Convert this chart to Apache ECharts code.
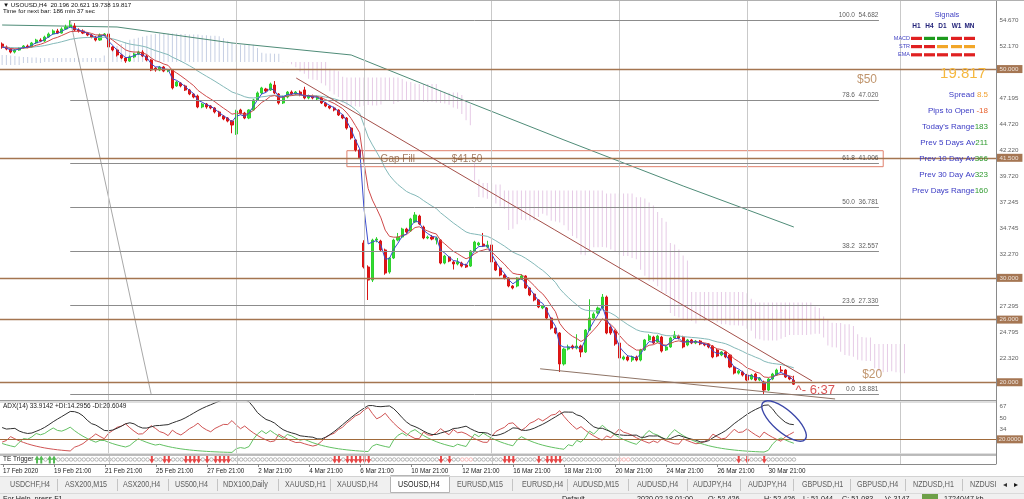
<!DOCTYPE html>
<html><head><meta charset="utf-8">
<script src="https://cdn.jsdelivr.net/npm/echarts@6/dist/echarts.min.js"></script>
<style>html,body{margin:0;padding:0;background:#fff;overflow:hidden}#c{width:1024px;height:499px}</style>
</head><body><div id="c"></div>
<script>
// ---------- DATA ----------
const OPEN=[52.40,52.11,51.92,51.63,51.82,52.02,52.21,52.11,52.50,52.78,52.69,53.07,53.36,53.65,53.45,53.84,54.03,54.12,53.74,53.65,53.45,53.26,53.07,52.78,53.26,53.36,52.11,51.83,51.35,51.06,50.77,51.16,51.44,51.63,51.25,50.87,50.10,49.91,50.20,49.81,49.91,48.38,48.66,48.38,47.99,47.61,47.42,46.37,46.65,46.46,46.27,45.89,45.50,45.31,45.02,43.78,46.08,45.79,45.31,46.08,47.04,47.71,48.09,47.99,48.47,47.61,46.75,47.32,47.80,47.61,47.80,48.00,47.23,47.42,47.13,47.23,46.75,46.46,46.27,46.08,45.60,45.31,44.35,43.21,42.25,33.34,31.04,29.79,33.62,33.53,32.67,30.56,31.90,33.62,33.91,34.68,34.49,35.35,35.92,34.87,33.82,33.91,33.62,33.62,31.42,32.00,31.52,31.33,31.42,31.23,31.13,32.57,33.15,33.24,32.95,33.15,31.52,30.94,30.27,29.98,29.22,29.22,29.89,30.18,29.03,28.45,27.88,27.11,27.11,26.15,25.19,24.72,21.75,23.18,23.47,23.28,23.47,22.90,25.00,26.15,26.63,27.11,28.16,25.29,24.91,23.76,22.23,22.42,22.13,22.42,22.13,23.09,24.05,24.33,23.86,24.33,23.09,23.38,24.24,24.43,24.33,23.57,24.05,23.76,23.95,23.67,23.67,23.47,23.09,22.61,22.90,22.61,21.46,20.88,20.98,20.69,20.31,20.79,20.21,20.02,19.25,20.31,20.69,21.17,21.17,20.50,20.196];
const CLOSE=[52.11,51.92,51.63,51.82,52.02,52.21,52.11,52.50,52.78,52.69,53.07,53.36,53.65,53.45,53.84,54.03,54.22,53.74,53.65,53.45,53.26,53.07,52.78,53.26,53.36,52.11,51.83,51.35,51.06,50.77,51.16,51.44,51.63,51.25,50.87,49.91,49.91,50.20,49.81,49.91,48.19,48.76,48.38,47.99,47.61,47.32,46.37,46.65,46.37,46.27,45.89,45.50,45.22,45.02,44.64,45.98,45.79,45.31,46.08,47.04,47.71,48.19,47.90,48.57,47.71,46.75,47.32,47.80,47.61,47.80,47.52,47.23,47.42,47.23,47.32,46.75,46.46,46.27,46.08,45.60,45.31,44.35,43.40,42.25,41.50,31.04,29.79,33.62,33.72,32.67,30.46,31.90,33.62,33.91,34.68,34.39,35.64,36.02,35.16,33.82,33.91,33.72,33.82,31.42,32.09,31.61,31.33,31.52,31.13,31.04,32.57,33.43,33.34,33.05,33.15,31.52,30.75,30.27,29.98,29.22,29.03,29.98,30.18,29.03,28.36,27.88,27.21,27.30,26.15,25.19,24.72,21.75,23.18,23.38,23.28,23.47,22.90,25.00,26.15,26.54,27.11,28.16,24.72,24.72,23.67,22.32,22.42,22.13,22.42,22.13,23.09,24.05,24.43,23.76,24.43,22.99,23.38,24.24,24.53,24.24,23.38,24.05,23.76,23.95,23.67,23.57,23.38,22.42,22.51,22.90,22.42,21.46,20.88,21.08,20.69,20.21,20.69,20.21,20.41,19.25,20.31,20.79,21.17,21.08,20.50,20.31,19.817];
const LOW=[51.95,51.80,51.50,51.50,51.75,51.95,52.00,52.05,52.40,52.60,52.60,53.00,53.30,53.35,53.40,53.75,53.95,53.60,53.50,53.35,53.15,52.95,52.65,52.70,53.15,52.00,51.70,51.20,50.95,50.60,50.70,51.05,51.35,51.15,50.75,49.80,49.75,49.80,49.70,49.70,48.05,48.30,48.25,47.90,47.50,47.20,46.25,46.25,46.20,46.15,45.75,45.40,45.10,44.90,43.85,43.70,45.65,45.20,45.20,46.00,46.95,47.60,47.80,47.90,47.60,46.60,46.65,47.20,47.50,47.50,47.40,47.10,47.10,47.10,47.00,46.65,46.35,46.15,45.95,45.50,45.20,44.20,43.25,42.10,41.40,30.90,27.88,29.60,33.40,32.55,30.30,30.40,31.80,33.50,33.80,34.25,34.40,35.25,35.05,33.70,33.70,33.60,33.20,31.30,31.30,31.50,30.80,31.20,31.00,30.95,31.05,32.45,33.05,32.95,32.85,31.40,30.65,30.15,29.85,29.10,28.90,29.10,29.80,28.95,28.25,27.75,27.10,27.00,26.05,25.05,24.60,20.98,21.60,23.05,23.15,23.15,22.40,22.80,24.90,26.05,26.50,27.00,24.60,24.55,23.50,22.10,22.10,22.00,21.95,22.00,22.00,23.00,23.95,23.65,23.75,22.85,23.00,23.30,24.15,24.10,23.25,23.45,23.65,23.65,23.55,23.45,23.25,22.30,22.40,22.50,22.30,21.35,20.75,20.75,20.55,20.10,20.20,20.10,20.10,18.88,19.15,20.20,20.60,20.95,20.40,20.20,19.738];
const HIGH=[52.55,52.25,52.00,51.90,52.10,52.30,52.35,52.60,52.90,52.95,53.20,53.50,53.80,53.85,54.00,54.25,54.68,54.40,53.90,53.80,53.55,53.35,53.15,53.40,53.45,53.45,52.20,51.95,51.45,51.15,51.30,51.55,51.75,51.80,51.35,50.95,50.20,50.30,50.30,50.00,50.00,48.85,48.75,48.50,48.10,47.70,47.55,46.75,46.75,46.55,46.35,46.00,45.60,45.40,45.10,46.10,46.20,45.90,46.15,47.15,47.85,48.30,48.20,48.70,48.85,47.70,47.45,47.90,47.95,47.90,47.95,48.30,47.55,47.55,47.45,47.35,46.85,46.55,46.40,46.15,45.70,45.40,44.45,43.30,42.35,33.60,31.20,33.75,33.90,33.65,32.80,32.00,33.75,34.30,34.80,34.80,35.75,36.30,36.05,35.00,34.05,34.10,33.95,33.70,32.20,32.10,31.65,31.90,31.55,31.35,32.65,33.55,33.45,34.30,33.55,33.25,31.60,31.05,30.40,30.05,29.30,30.05,30.35,30.25,29.10,28.55,27.95,27.40,27.20,26.25,25.30,24.80,23.30,23.60,23.60,24.60,23.60,25.10,27.95,26.70,27.25,28.45,28.30,25.40,25.05,23.90,22.55,22.60,22.55,22.55,23.20,24.15,24.60,24.45,24.55,24.45,23.50,24.35,24.90,24.55,24.45,24.15,24.15,24.05,24.05,23.75,23.75,23.55,23.20,23.00,23.00,22.70,21.55,21.20,21.10,20.80,20.80,20.90,20.50,20.15,20.40,20.90,21.30,21.55,21.25,20.60,20.621];

// Ichimoku spans where they depend on bars before the first visible one
const SPAN_A_EARLY=[51.35,51.35,51.30,51.25,51.20,51.16,51.16,51.10,51.10,51.06,51.06,51.06,51.06,51.06,51.06,51.06,51.06,51.06,51.06,51.06,51.06,51.06,51.06,51.06,51.30,51.60,51.90,52.20,52.40,52.60,52.80,52.90,53.00,53.10,53.20,53.30,53.35,53.40,53.40,53.40,53.40,53.40,53.35,53.35,53.30,53.30,53.30,53.25,53.25,53.20,53.20];
const SPAN_B_EARLY=[50.39,50.39,50.39,50.39,50.39,50.58,50.58,50.58,50.58,50.58,50.68,50.68,50.68,50.68,50.68,50.68,50.68,50.68,50.68,50.68,50.68,50.68,50.68,50.68,50.68,50.68,50.68,50.68,50.68,50.68,50.68,50.68,50.68,50.68,50.68,50.68,50.68,50.68,50.68,50.68,50.68,50.68,50.68,50.68,50.68,50.68,50.68,50.68,50.68,50.68,50.68,50.68,50.68,50.68,50.68,50.68,50.68,50.68,50.68,50.68,50.68,50.68,50.68,50.68,50.68,50.68,50.68,50.68,50.68,50.68,50.68,50.68,50.68,50.68,50.68,50.68,50.68];

const TICK_LABELS=['17 Feb 2020','19 Feb 21:00','21 Feb 21:00','25 Feb 21:00','27 Feb 21:00','2 Mar 21:00','4 Mar 21:00','6 Mar 21:00','10 Mar 21:00','12 Mar 21:00','16 Mar 21:00','18 Mar 21:00','20 Mar 21:00','24 Mar 21:00','26 Mar 21:00','30 Mar 21:00'];
const TICK_STEP=12;
const PRICE_TICKS=['54.670','52.170','47.195','44.720','42.220','39.720','37.245','34.745','32.270','27.295','24.795','22.320'];
const KEY_LEVELS=[50,41.5,30,26,20];
const FIB_LEVELS=[100.0,78.6,61.8,50.0,38.2,23.6,0.0];
const FIB_PRICES=[54.682,47.020,41.006,36.781,32.557,27.330,18.881];
const FIB_SPAN=[16,206];
const FIB_DIAG=[[16,54.682],[35,18.881]];
const TREND_RES=[[69.1,49.14],[190.3,20.12]];
const TREND_SUP=[[126.4,21.29],[195.7,18.40]];
const GAP_BOX=[81,207,42.18,40.65];
const GRID_BARS=[25,55,85,115,145,175,211];
const LONG_MA=[[0,54.22],[27,54.03],[54,52.50],[82,51.35],[110,46.75],[132,43.21],[160,38.80],[171,37.14],[186,34.87]];
const ADX_SEED={adx:37,pdi:14,mdi:16};
const ADX_TICKS=[67,50,34];
const TE_DOWN=[35,38,39,43,44,45,46,48,50,51,52,53,78,79,81,82,83,84,85,86,103,105,118,119,120,126,128,129,130,131,173,175,179];
const TE_UP=[8,9,11,12];
const TE_FAINT=[108,109,110,145,146,147];
const SIGNAL_COLS=['H1','H4','D1','W1','MN'];
const SIGNAL_ROWS=[['MACD',['r','g','g','r','r']],['STR',['r','r','o','o','o']],['EMA',['r','r','r','r','r']]];
const INFO_ROWS=[['Spread ','8.5','#f0a030'],['Pips to Open ','-18','#e8602c'],["Today's Range",'183','#2e9a2e'],['Prev 5 Days Av','211','#2e9a2e'],['Prev 10 Day Av','366','#2e9a2e'],['Prev 30 Day Av','323','#2e9a2e'],['Prev Days Range','160','#2e9a2e']];
const TABS=[['USDCHF,H4',10],['ASX200,M15',65],['ASX200,H4',123],['US500,H4',175],['NDX100,Daily',223],['XAUUSD,H1',285],['XAUUSD,H4',337],['USOUSD,H4',398],['EURUSD,M15',457],['EURUSD,H4',522],['AUDUSD,M15',573],['AUDUSD,H4',637],['AUDJPY,H4',693],['AUDJPY,H4',748],['GBPUSD,H1',802],['GBPUSD,H4',857],['NZDUSD,H1',913],['NZDUSI',970]];
const TAB_SEPS=[57,117,168,217,278,330,390,450,512,567,628,687,740,793,850,905,962];
const STATUS=[['For Help, press F1',3],['Default',562],['2020.02.18 01:00',637],['O: 52.426',708],['H: 52.426',764],['L: 51.044',803],['C: 51.083',842],['V: 3147',885],['17240/47 kb',944]];

// ---------- LAYOUT ----------
const N_SLOTS=234, PRICE_MIN=18.30, PRICE_MAX=56.52, ADX_MAX=73.8, SHIFT=26;
const SANS="'Liberation Sans','DejaVu Sans',sans-serif";
const NB=OPEN.length;
const cats=Array.from({length:N_SLOTS},(_,i)=>String(i));
const candleData=OPEN.map((o,i)=>[o,CLOSE[i],LOW[i],HIGH[i]]);

function ema(arr,n){const a=2/(n+1);let e=arr[0];return arr.map((v,i)=>{if(i>0)e+=a*(v-e);return +e.toFixed(4);});}
function mid(a,b){let h=-Infinity,l=Infinity;for(let i=Math.max(0,a);i<=b;i++){if(HIGH[i]>h)h=HIGH[i];if(LOW[i]<l)l=LOW[i];}return (h+l)/2;}
function adxCalc(){
  const n=14,a=2/(n+1);let p=ADX_SEED.pdi,m=ADX_SEED.mdi,x=ADX_SEED.adx;
  const P=[p],M=[m],A=[x];
  for(let i=1;i<NB;i++){
    let pdm=HIGH[i]-HIGH[i-1],mdm=LOW[i-1]-LOW[i];
    if(pdm<0)pdm=0;if(mdm<0)mdm=0;
    if(pdm===mdm){pdm=0;mdm=0;}else if(pdm<mdm)pdm=0;else mdm=0;
    const tr=Math.max(HIGH[i]-LOW[i],Math.abs(HIGH[i]-CLOSE[i-1]),Math.abs(LOW[i]-CLOSE[i-1]));
    const pr=tr?100*pdm/tr:0,mr=tr?100*mdm/tr:0;
    p+=a*(pr-p);m+=a*(mr-m);
    const dx=(p+m)?100*Math.abs(p-m)/(p+m):0;
    x+=a*(dx-x);
    P.push(+p.toFixed(3));M.push(+m.toFixed(3));A.push(+x.toFixed(3));
  }
  return {P,M,A};
}
const adx=adxCalc();

// Ichimoku (9/26/52), spans displaced 26 bars forward
const cloudBase=[],cloudUp=[],cloudDn=[];
for(let j=0;j<NB+SHIFT;j++){
  const k=j-SHIFT;
  const A=j<SPAN_A_EARLY.length?SPAN_A_EARLY[j]:(mid(k-8,k)+mid(k-25,k))/2;
  const B=j<SPAN_B_EARLY.length?SPAN_B_EARLY[j]:mid(k-51,k);
  cloudBase.push(+Math.min(A,B).toFixed(3));
  cloudUp.push(A>=B?+(A-B).toFixed(3):0);
  cloudDn.push(A<B?+(B-A).toFixed(3):0);
}

const vGrid=GRID_BARS.map(b=>({xAxis:b}));
const tickInt=(i)=>i%TICK_STEP===0&&i/TICK_STEP<TICK_LABELS.length;
const fibLines=FIB_PRICES.map(p=>[{coord:[FIB_SPAN[0],p]},{coord:[FIB_SPAN[1],p]}]);
const keyLines=KEY_LEVELS.map(v=>({yAxis:v}));

const fibLabelData=FIB_PRICES.map((p,i)=>({value:[FIB_SPAN[1],p],label:{show:true,position:'left',distance:0,offset:[0,-4.5],formatter:FIB_LEVELS[i].toFixed(1)+'  '+p.toFixed(3),fontSize:6.5,fontFamily:SANS,color:'#333'}}));
const ANNOT=[['$50',203.2,48.95,'#b07a48',12,'c'],['Gap Fill',88.8,41.34,'#8b5a3a',10,'l'],['$41.50',105.5,41.34,'#8b5a3a',10,'l'],['$20',204.4,20.69,'#b07a48',12,'c'],['^- 6:37',186.3,19.26,'#d02828',13,'l']];
const annotData=ANNOT.map(([t,b,p,c,s,al])=>({value:[b,p],label:{show:true,formatter:t,position:al==='l'?'right':'inside',distance:0,color:c,fontSize:s,fontFamily:SANS}}));

const axisLabelData=PRICE_TICKS.map(t=>({value:[N_SLOTS-0.5,parseFloat(t)],label:{show:true,position:'right',distance:3,formatter:t,fontSize:6.2,fontFamily:SANS,color:'#333'}}))
 .concat(KEY_LEVELS.map(v=>({value:[N_SLOTS-0.5,v],label:{show:true,position:'right',distance:0,formatter:v.toFixed(3),fontSize:6.2,fontFamily:SANS,color:'#fff',backgroundColor:'#8e5428',padding:[1,4,1,3]}})));
const adxLabelData=ADX_TICKS.map(v=>({value:[N_SLOTS-0.5,v],label:{show:true,position:'right',distance:3,formatter:String(v),fontSize:6.2,fontFamily:SANS,color:'#333'}}))
 .concat([{value:[N_SLOTS-0.5,20],label:{show:true,position:'right',distance:0,formatter:'20.0000',fontSize:6.2,fontFamily:SANS,color:'#fff',backgroundColor:'#8e5428',padding:[1,2,1,2]}}]);

const special=new Set([...TE_DOWN,...TE_UP,...TE_FAINT]);
const teGray=[];for(let i=10;i<NB;i++){if(!special.has(i))teGray.push([i,0.5]);}
const DOWN_ARROW='path://M3,0 L7,0 L7,5 L10,5 L5,11 L0,5 L3,5 Z';
const UP_ARROW='path://M5,0 L10,6 L7,6 L7,11 L3,11 L3,6 L0,6 Z';

const hidden={show:false};
const option={
  animation:false,backgroundColor:'#ffffff',
  grid:[{left:0,top:1,width:996,height:399},{left:0,top:402,width:996,height:51.2},{left:0,top:455,width:996,height:9}],
  xAxis:[
    {type:'category',gridIndex:0,data:cats,boundaryGap:true,show:false},
    {type:'value',gridIndex:0,min:-0.5,max:N_SLOTS-0.5,show:false},
    {type:'category',gridIndex:1,data:cats,boundaryGap:true,show:false},
    {type:'value',gridIndex:1,min:-0.5,max:N_SLOTS-0.5,show:false},
    {type:'category',gridIndex:2,data:cats,boundaryGap:true,
      axisLine:{show:true,lineStyle:{color:'#8a8a8a'}},
      axisTick:{show:true,interval:tickInt,alignWithLabel:true,length:3,lineStyle:{color:'#8a8a8a'}},
      axisLabel:{show:true,interval:tickInt,formatter:(v,i)=>TICK_LABELS[i/TICK_STEP]||'',align:'left',margin:4,fontSize:6.3,fontFamily:SANS,color:'#222'},
      splitLine:hidden}
  ],
  yAxis:[
    {type:'value',gridIndex:0,min:PRICE_MIN,max:PRICE_MAX,show:false},
    {type:'value',gridIndex:1,min:0,max:ADX_MAX,show:false},
    {type:'value',gridIndex:2,min:0,max:1,show:false}
  ],
  series:[
    {type:'bar',xAxisIndex:0,yAxisIndex:0,stack:'cloud',data:cloudBase,barWidth:1,itemStyle:{color:'rgba(0,0,0,0)'},silent:true,z:1,
      markLine:{silent:true,symbol:['none','none'],label:hidden,lineStyle:{color:'#c9c9c9',width:1,type:'solid'},data:vGrid}},
    {type:'bar',xAxisIndex:0,yAxisIndex:0,stack:'cloud',data:cloudUp,barWidth:1,itemStyle:{color:'#c6cfe3'},silent:true,z:1},
    {type:'bar',xAxisIndex:0,yAxisIndex:0,stack:'cloud',data:cloudDn,barWidth:1,itemStyle:{color:'#e6cbe6'},silent:true,z:1},
    {type:'line',xAxisIndex:1,yAxisIndex:0,data:LONG_MA,symbol:'none',lineStyle:{color:'#4f8c78',width:1},z:2,silent:true},
    {type:'line',xAxisIndex:0,yAxisIndex:0,data:[],symbol:'none',z:2,silent:true,
      markLine:{silent:true,symbol:['none','none'],label:hidden,lineStyle:{color:'#8c8c8c',width:1,type:'solid'},data:fibLines}},
    {type:'line',xAxisIndex:0,yAxisIndex:0,data:[],symbol:'none',z:2,silent:true,
      markLine:{silent:true,symbol:['none','none'],label:hidden,lineStyle:{color:'#a47550',width:1.3,type:'solid'},data:keyLines}},
    {type:'line',xAxisIndex:1,yAxisIndex:0,data:FIB_DIAG,symbol:'none',lineStyle:{color:'#a8a8a8',width:1},z:2,silent:true},
    {type:'line',xAxisIndex:1,yAxisIndex:0,data:[[GAP_BOX[0],GAP_BOX[2]],[GAP_BOX[1],GAP_BOX[2]],[GAP_BOX[1],GAP_BOX[3]],[GAP_BOX[0],GAP_BOX[3]],[GAP_BOX[0],GAP_BOX[2]]],symbol:'none',lineStyle:{color:'#e0806c',width:1},z:2,silent:true},
    {type:'candlestick',xAxisIndex:0,yAxisIndex:0,data:candleData,barWidth:2.6,z:3,silent:true,
      itemStyle:{color:'#2fe02f',color0:'#e01616',borderColor:'#2fcf2f',borderColor0:'#d81414',borderWidth:1}},
    {type:'line',xAxisIndex:0,yAxisIndex:0,data:ema(CLOSE,25),symbol:'none',lineStyle:{color:'#84b9b9',width:1},z:4,silent:true},
    {type:'line',xAxisIndex:0,yAxisIndex:0,data:ema(CLOSE,8),symbol:'none',lineStyle:{color:'#cf4a4a',width:1},z:4,silent:true},
    {type:'line',xAxisIndex:0,yAxisIndex:0,data:ema(CLOSE,3),symbol:'none',lineStyle:{color:'#3a4ccf',width:1},z:4,silent:true},
    {type:'line',xAxisIndex:1,yAxisIndex:0,data:TREND_RES,symbol:'none',lineStyle:{color:'#a4504a',width:1},z:5,silent:true},
    {type:'line',xAxisIndex:1,yAxisIndex:0,data:TREND_SUP,symbol:'none',lineStyle:{color:'#8e7466',width:1},z:5,silent:true},
    {type:'scatter',xAxisIndex:1,yAxisIndex:0,data:fibLabelData.concat(annotData),symbolSize:1,itemStyle:{color:'rgba(0,0,0,0)'},z:6,silent:true,clip:false},
    {type:'scatter',xAxisIndex:1,yAxisIndex:0,data:axisLabelData,symbolSize:1,itemStyle:{color:'rgba(0,0,0,0)'},z:6,silent:true,clip:false},
    {type:'line',xAxisIndex:2,yAxisIndex:1,data:adx.M,symbol:'none',lineStyle:{color:'#d05454',width:1},z:3,silent:true,
      markLine:{silent:true,symbol:['none','none'],label:hidden,data:vGrid.map(d=>Object.assign({lineStyle:{color:'#c9c9c9',width:1,type:'solid'}},d)).concat([{yAxis:20,lineStyle:{color:'#a06a3a',width:1,type:'solid'}}])}},
    {type:'line',xAxisIndex:2,yAxisIndex:1,data:adx.P,symbol:'none',lineStyle:{color:'#62c062',width:1},z:3,silent:true},
    {type:'line',xAxisIndex:2,yAxisIndex:1,data:adx.A,symbol:'none',lineStyle:{color:'#303030',width:1},z:3,silent:true},
    {type:'scatter',xAxisIndex:3,yAxisIndex:1,data:adxLabelData,symbolSize:1,itemStyle:{color:'rgba(0,0,0,0)'},z:6,silent:true,clip:false},
    {type:'scatter',xAxisIndex:4,yAxisIndex:2,data:teGray,symbol:'circle',symbolSize:3.5,itemStyle:{color:'rgba(0,0,0,0)',borderColor:'#9a9a9a',borderWidth:0.9},silent:true,
      markLine:{silent:true,symbol:['none','none'],label:hidden,lineStyle:{color:'#c9c9c9',width:1,type:'solid'},data:vGrid}},
    {type:'scatter',xAxisIndex:4,yAxisIndex:2,data:TE_FAINT.map(b=>[b,0.5]),symbol:'circle',symbolSize:3.5,itemStyle:{color:'rgba(0,0,0,0)',borderColor:'#f0a0a0',borderWidth:0.9},silent:true},
    {type:'scatter',xAxisIndex:4,yAxisIndex:2,data:TE_DOWN.map(b=>[b,0.5]),symbol:DOWN_ARROW,symbolSize:[5,8],itemStyle:{color:'#e01818'},silent:true},
    {type:'scatter',xAxisIndex:4,yAxisIndex:2,data:TE_UP.map(b=>[b,0.5]),symbol:UP_ARROW,symbolSize:[5,8],itemStyle:{color:'#28a828'},silent:true}
  ]
};

const chart=echarts.init(document.getElementById('c'),null,{renderer:'canvas'});
chart.setOption(option);

// ---------- decorations (text, panels, tabs) ----------
const mctx=document.createElement('canvas').getContext('2d');
function tw(t,font){mctx.font=font;return mctx.measureText(t).width;}
function txt(x,y,t,size,color,opts){opts=opts||{};const w=opts.weight||'normal';
  const el={type:'text',x:x,y:y,silent:true,z:100,style:{text:t,fill:color,font:w+' '+size+'px '+SANS,textAlign:opts.align||'left',textVerticalAlign:'middle',align:opts.align||'left',verticalAlign:'middle'}};
  if(opts.sx)el.scaleX=opts.sx;return el;}
function line(x1,y1,x2,y2,c,w){return {type:'line',silent:true,z:90,shape:{x1,y1,x2,y2},style:{stroke:c,lineWidth:w||1}};}
function rect(x,y,w,h,fill,stroke){return {type:'rect',silent:true,z:80,shape:{x,y,width:w,height:h},style:{fill:fill,stroke:stroke||null,lineWidth:1}};}

const g=[];
g.push(txt(3,5.5,'\u25BC USOUSD,H4  20.196 20.621 19.738 19.817',6.2,'#111'));
g.push(txt(3,11,'Time for next bar: 186 min 37 sec',6.2,'#111'));
g.push(line(0,400.5,996,400.5,'#9a9a9a',1));g.push(line(0,402,996,402,'#bdbdbd',1));
g.push(line(0,454.2,996,454.2,'#9a9a9a',1));g.push(line(0,455.5,996,455.5,'#bdbdbd',1));
g.push(line(996.5,0,996.5,464,'#8a8a8a',1));
g.push(line(0,0.5,1024,0.5,'#b0b0b0',1));
g.push(txt(947,15,'Signals',7.5,'#4444c4',{align:'center'}));
const colX=[916.5,929.5,942.5,956.5,969.5];
SIGNAL_COLS.forEach((c,i)=>g.push(txt(colX[i],26.5,c,6.5,'#23237a',{align:'center',weight:'bold'})));
const SC={r:'#e02020',g:'#1d9a1d',o:'#f2a628'};
SIGNAL_ROWS.forEach(([name,cols],r)=>{const y=38.3+r*8.2;g.push(txt(910,y,name,5.5,'#4444c4',{align:'right'}));
  cols.forEach((k,i)=>g.push(rect(colX[i]-5.5,y-1.5,11,3.2,SC[k])));});
g.push(txt(986,74,'19.817',15,'#f5b840',{align:'right'}));
INFO_ROWS.forEach(([lab,val,col],i)=>{const y=94.3+i*16;const f='normal 8px '+SANS;const w=tw(val,f);
  g.push(txt(988,y,val,8,col,{align:'right'}));g.push(txt(988-w,y,lab,8,'#3a3ac4',{align:'right'}));});
g.push(txt(3,406.5,'ADX(14) 33.9142 +DI:14.2956 -DI:20.6049',6.5,'#222'));
g.push(txt(3,459.5,'TE Trigger',6.5,'#222'));
g.push(rect(0,476,1024,17,'#f0f0f0'));
g.push(line(0,476.5,1024,476.5,'#d2d2d2',1));
g.push(rect(390.5,475.5,59,17,'#ffffff','#b5b5b5'));
TAB_SEPS.forEach(x=>{if(x!==390&&x!==450)g.push(line(x+0.5,479,x+0.5,491,'#c4c4c4',1));});
TABS.forEach(([t,x])=>g.push(txt(x,484.5,t,8.5,t==='USOUSD,H4'?'#222':'#5e5e5e',{sx:0.84})));
g.push(txt(1005,484.5,'\u25C2',8,'#333',{align:'center'}));
g.push(txt(1016,484.5,'\u25B8',8,'#111',{align:'center'}));
g.push(rect(0,493,1024,6,'#f0f0f0'));
g.push(line(0,493.5,1024,493.5,'#dadada',1));
STATUS.forEach(([t,x])=>g.push(txt(x,499,t,7.2,'#222')));
g.push(rect(922,494,16,5,'#6ea048'));
const ec=chart.convertToPixel({xAxisIndex:3,yAxisIndex:1},[183.7,46.4]);
g.push({type:'ellipse',silent:true,z:95,x:ec[0],y:ec[1],rotation:-0.72,shape:{cx:0,cy:0,rx:28,ry:11},style:{fill:null,stroke:'#3a46a8',lineWidth:1.4}});

chart.setOption({graphic:{elements:g}});
</script></body></html>
